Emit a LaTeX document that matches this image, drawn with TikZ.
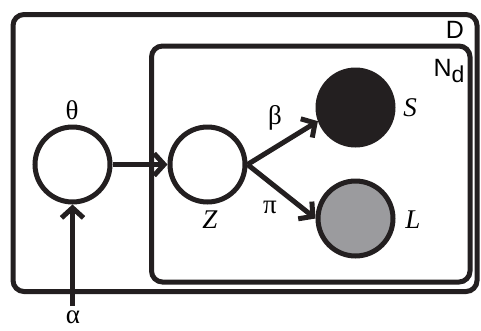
\documentclass[tikz,border=0pt]{standalone}
\usepackage{fontspec}
\setmainfont{Liberation Serif}
\newfontfamily\labsans{Liberation Sans}
\usetikzlibrary{arrows.meta}
\definecolor{ink}{RGB}{35,31,32}
\definecolor{obsgray}{RGB}{155,155,158}
\begin{document}
\begin{tikzpicture}[x=1pt,y=-1pt,
  every node/.style={font=\fontsize{27}{27}\selectfont},
  plate/.style={draw=ink,line width=5pt,rounded corners=11pt},
  var/.style={circle,draw=ink,line width=5pt,minimum size=75pt,inner sep=0pt},
  conn/.style={draw=ink,line width=5pt,-{Straight Barb[length=10pt,width=22pt]}},
  lab/.style={inner sep=0pt}]
\useasboundingbox (0,0) rectangle (481,330);
\draw[plate] (13,14.5) rectangle (477,291.5);
\draw[plate] (151.5,46) rectangle (470,282);
\node[lab,font=\labsans\fontsize{25}{25}\selectfont] (D) at (455,30) {D};
\node[lab,font=\labsans\fontsize{25}{25}\selectfont] (Nd) at (449,71) {N\raisebox{-6pt}{\fontsize{23}{23}\selectfont d}};
\node[var] (theta) at (72.5,164.5) {};
\node[var] (Z) at (207.5,164.5) {};
\node[var,fill=ink] (S) at (355.5,107.5) {};
\node[var,fill=obsgray] (L) at (355.5,218.5) {};
\coordinate (a0) at (72.5,306);
\draw[conn] (a0) -- (theta);
\draw[conn] (theta) -- (Z);
\draw[conn] (Z.east) -- (S.200);
\draw[conn] (Z.east) -- (L.west);
\node[lab] (lth) at (72,110) {θ};
\node[lab] (lal) at (73,317) {α};
\node[lab] (lbe) at (275,118) {β};
\node[lab] (lpi) at (270,207) {π};
\node[lab] (lZ) at (210,220) {\itshape Z};
\node[lab] (lS) at (410,108) {\itshape S};
\node[lab] (lL) at (413,220) {\itshape L};
\end{tikzpicture}
\end{document}
